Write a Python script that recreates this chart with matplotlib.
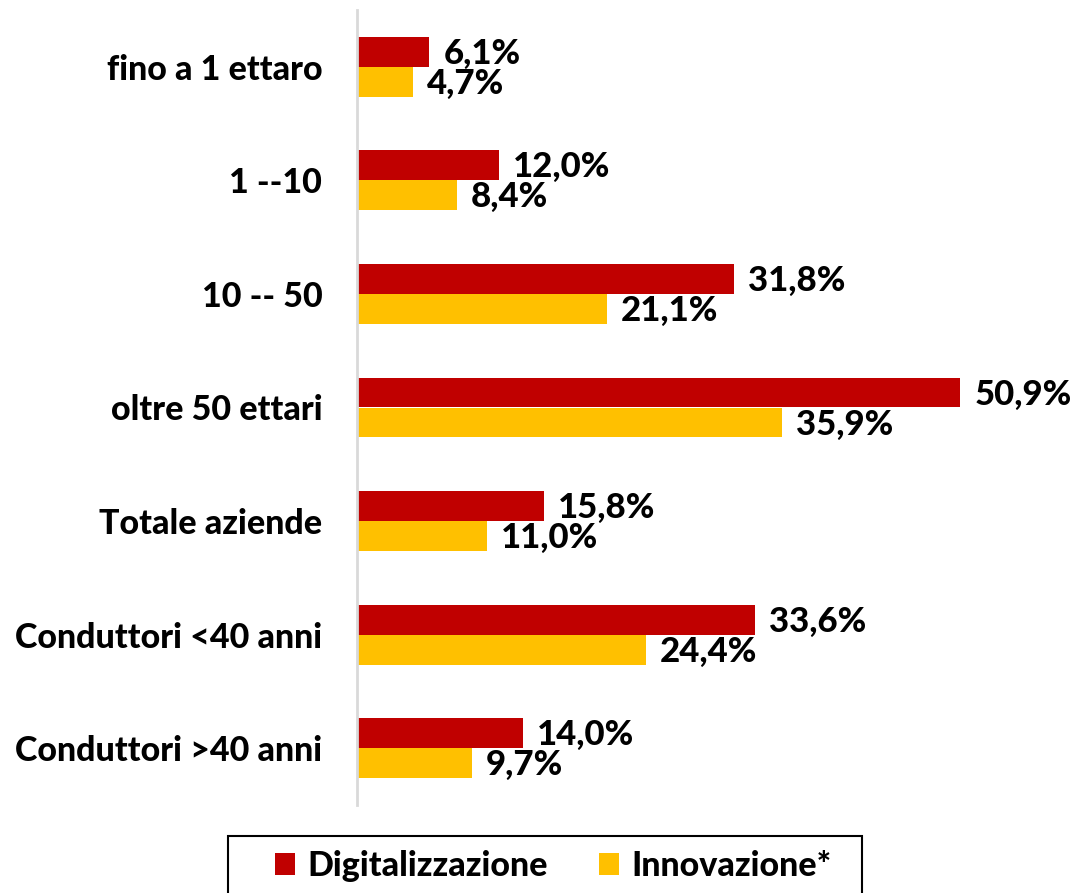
import matplotlib
matplotlib.use("Agg")
import matplotlib.pyplot as plt
from matplotlib.patches import Rectangle
import numpy as np

categories = ["fino a 1 ettaro", "1 --10", "10 -- 50", "oltre 50 ettari",
              "Totale aziende", "Conduttori <40 anni", "Conduttori >40 anni"]
digitalizzazione = [6.1, 12.0, 31.8, 50.9, 15.8, 33.6, 14.0]
innovazione = [4.7, 8.4, 21.1, 35.9, 11.0, 24.4, 9.7]
series_names = ["Digitalizzazione", "Innovazione*"]
colors = ["#C00000", "#FFC000"]

plt.rcParams["font.family"] = ["Lato", "DejaVu Sans"]
WEIGHT = 900

W, H = 1073, 893
fig = plt.figure(figsize=(W / 100, H / 100), dpi=100)
left, right, top, bottom = 357, 1068, 10, 805
ax = fig.add_axes([left / W, 1 - bottom / H, (right - left) / W, (bottom - top) / H])

y = np.arange(len(categories))
h = 0.264
b1 = ax.barh(y - h / 2, digitalizzazione, height=h, color=colors[0], label=series_names[0])
b2 = ax.barh(y + h / 2, innovazione, height=h, color=colors[1], label=series_names[1])

ax.set_xlim(0, 60)
ax.set_ylim(len(categories) - 0.5, -0.5)
ax.set_yticks(y)
ax.set_yticklabels(categories, fontsize=24.5, fontweight=WEIGHT)
ax.tick_params(axis="y", length=0, pad=25)
ax.set_xticks([])
for s in ["top", "right", "bottom"]:
    ax.spines[s].set_visible(False)
ax.spines["left"].set_color("#D9D9D9")
ax.spines["left"].set_linewidth(2)

def fmt(v):
    return f"{v:.1f}".replace(".", ",") + "%"

for bars, vals in ((b1, digitalizzazione), (b2, innovazione)):
    for rect, v in zip(bars, vals):
        ax.annotate(fmt(v), (v, rect.get_y() + rect.get_height() / 2),
                    xytext=(14, -2), textcoords="offset pixels",
                    ha="left", va="center", fontsize=25, fontweight=WEIGHT)

# legend entries without frame, plus a separate box around them
fig.legend(handles=[b1, b2], labels=series_names, loc="center left",
           bbox_to_anchor=(275 / W, 1 - 866 / H), ncol=2, frameon=False,
           prop={"size": 24.5, "weight": WEIGHT}, handlelength=0.6,
           handleheight=0.6, handletextpad=0.35, columnspacing=1.5,
           borderpad=0, borderaxespad=0)
fig.patches.append(Rectangle((228 / W, -0.05), (862 - 228) / W, 0.05 + (H - 836) / H,
                             transform=fig.transFigure, fill=False,
                             edgecolor="black", linewidth=1.5))

fig.savefig("out.png", dpi=100)
